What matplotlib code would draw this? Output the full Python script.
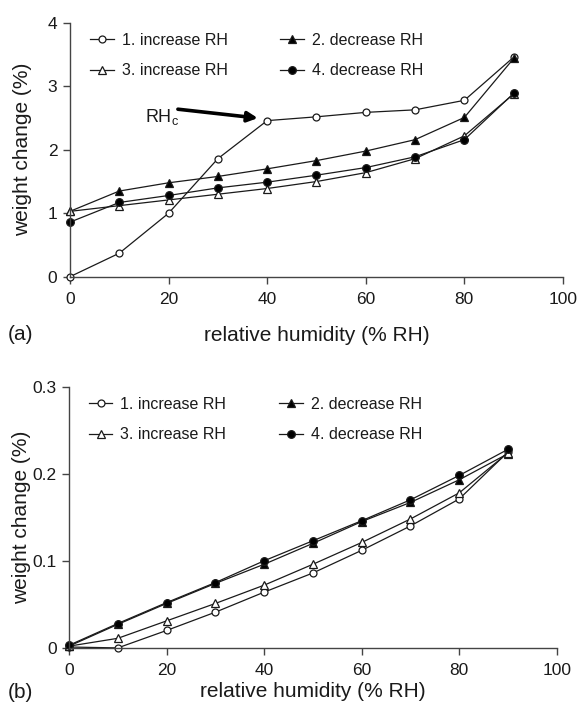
import matplotlib
matplotlib.use("Agg")
import matplotlib.pyplot as plt

plt.rcParams['font.family'] = ['Liberation Sans', 'DejaVu Sans']
plt.rcParams['mathtext.fontset'] = 'custom'
plt.rcParams['mathtext.rm'] = 'Liberation Sans'

# relative humidity steps (% RH)
rh = [0, 10, 20, 30, 40, 50, 60, 70, 80, 90]

# (a) weight change (%)
a_inc1 = [0.00, 0.37, 1.00, 1.86, 2.46, 2.52, 2.59, 2.63, 2.78, 3.46]
a_dec2 = [1.03, 1.35, 1.48, 1.58, 1.70, 1.83, 1.98, 2.16, 2.51, 3.44]
a_inc3 = [1.03, 1.12, 1.21, 1.30, 1.39, 1.50, 1.64, 1.86, 2.22, 2.88]
a_dec4 = [0.86, 1.17, 1.28, 1.40, 1.49, 1.60, 1.72, 1.89, 2.16, 2.89]

# (b) weight change (%)
b_inc1 = [0.001, 0.000, 0.020, 0.041, 0.064, 0.086, 0.112, 0.140, 0.171, 0.225]
b_dec2 = [0.002, 0.027, 0.051, 0.074, 0.096, 0.120, 0.145, 0.167, 0.193, 0.223]
b_inc3 = [0.002, 0.011, 0.031, 0.051, 0.072, 0.096, 0.121, 0.148, 0.178, 0.224]
b_dec4 = [0.003, 0.028, 0.052, 0.075, 0.100, 0.123, 0.146, 0.170, 0.198, 0.228]

labels = ['1. increase RH', '2. decrease RH', '3. increase RH', '4. decrease RH']
styles = [('o', 'white', 5), ('^', 'black', 5.8), ('^', 'white', 5.3), ('o', 'black', 5.5)]

ink = '#1a1a1a'
fig = plt.figure(figsize=(5.78, 7.05), dpi=100)
ax1 = fig.add_axes([0.121, 0.6075, 0.853, 0.360])
ax2 = fig.add_axes([0.1194, 0.081, 0.844, 0.3707])


def draw(ax, series, yticks, yticklabels, xlab_y):
    lines = []
    for ys, lab, (m, fc, ms) in zip(series, labels, styles):
        ln, = ax.plot(rh, ys, color=ink, lw=0.9, marker=m, mfc=fc, mec=ink,
                      ms=ms, mew=0.9, label=lab, clip_on=False)
        lines.append(ln)
    ax.set_xlim(0, 100)
    ax.set_ylim(yticks[0], yticks[-1])
    ax.set_xticks([0, 20, 40, 60, 80, 100])
    ax.set_yticks(yticks)
    ax.set_yticklabels(yticklabels)
    for s in ['top', 'right']:
        ax.spines[s].set_visible(False)
    for s in ['left', 'bottom']:
        ax.spines[s].set_color('#444444')
        ax.spines[s].set_linewidth(1.0)
    ax.tick_params(direction='out', length=5, width=1.0, color='#444444',
                   labelsize=12.5, labelcolor=ink)
    ax.tick_params(axis='x', pad=6)
    ax.tick_params(axis='y', pad=4)
    ax.set_xlabel('relative humidity (% RH)', fontsize=15, color=ink)
    ax.xaxis.label.set_verticalalignment('center')
    ax.xaxis.set_label_coords(0.5, xlab_y)
    ax.set_ylabel('weight change (%)', fontsize=15, color=ink)
    ax.yaxis.label.set_verticalalignment('center')
    ax.yaxis.set_label_coords(-0.097, 0.5)
    order = [0, 2, 1, 3]
    ax.legend([lines[i] for i in order], [labels[i] for i in order], ncol=2,
              frameon=False, fontsize=11.5, numpoints=1, handlelength=1.5,
              handletextpad=0.5, columnspacing=3.3, labelspacing=0.95,
              borderpad=0, borderaxespad=0, loc='upper left',
              bbox_to_anchor=(0.04, 0.96), labelcolor=ink)


draw(ax1, [a_inc1, a_dec2, a_inc3, a_dec4], [0, 1, 2, 3, 4],
     ['0', '1', '2', '3', '4'], -0.231)
draw(ax2, [b_inc1, b_dec2, b_inc3, b_dec4], [0, 0.1, 0.2, 0.3],
     ['0', '0.1', '0.2', '0.3'], -0.168)

# critical relative humidity marker
ax1.annotate('', xy=(38.1, 2.50), xytext=(21.9, 2.64),
             arrowprops=dict(arrowstyle='-|>', lw=2.6, color='black',
                             mutation_scale=15, shrinkA=0, shrinkB=0))
ax1.text(15.3, 2.52, r'RH$_\mathregular{c}$', fontsize=13, color=ink,
         ha='left', va='center')

fig.text(8 / 578, 1 - 335 / 705, '(a)', fontsize=15, color=ink, va='center')
fig.text(8 / 578, 1 - 692 / 705, '(b)', fontsize=15, color=ink, va='center')

fig.savefig('out.png', dpi=100)
